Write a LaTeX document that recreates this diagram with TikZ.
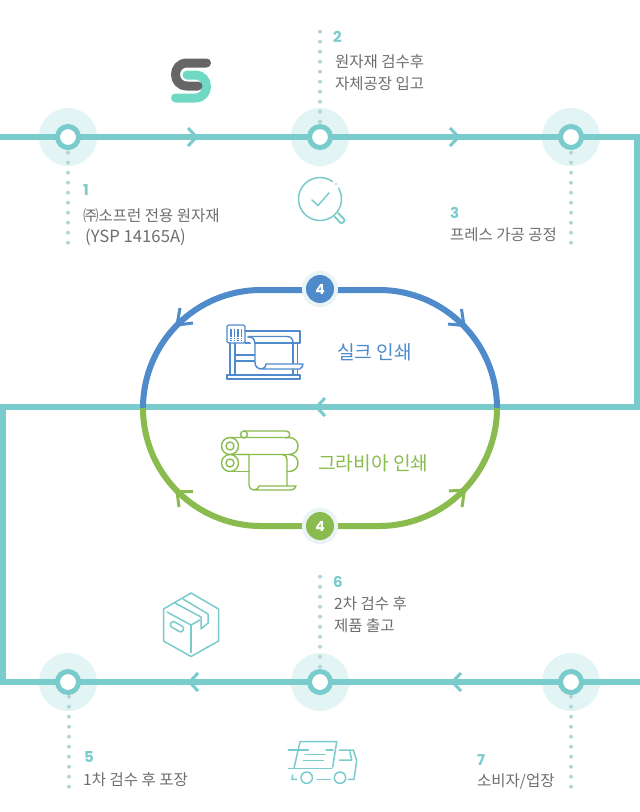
\documentclass[tikz,border=0pt]{standalone}
\usepackage{fontspec}
\setmainfont{Noto Sans CJK KR}
\newfontfamily\numfont{Poppins}
\definecolor{teal}{HTML}{7ACCCC}
\definecolor{halo}{HTML}{E2F4F4}
\definecolor{dotc}{HTML}{B5D6D6}
\definecolor{loopblue}{HTML}{4F8BCB}
\definecolor{loopgreen}{HTML}{8ABB4E}
\definecolor{badge}{HTML}{EAF3F5}
\definecolor{txt}{HTML}{6E6E6E}
\definecolor{logog}{HTML}{666666}
\definecolor{logot}{HTML}{6FD9C3}
\tikzset{
  x=1pt,y=-1pt,
  mainline/.style={draw=teal,line width=6pt,line join=miter},
  halonode/.style={circle,fill=halo,minimum size=58pt,inner sep=0pt},
  ringnode/.style={circle,draw=teal,fill=white,line width=5pt,minimum size=21pt,inner sep=0pt},
  dotline/.style={draw=dotc,line width=4pt,line cap=round,dash pattern=on 0pt off 10pt},
  chev/.style={draw=teal,line width=3pt,line cap=butt,line join=miter},
  looparrow/.style={line width=3pt,line cap=butt,line join=miter},
  num/.style={anchor=base west,inner sep=0pt,text=teal,font=\numfont\bfseries\fontsize{15}{15}\selectfont},
  lab/.style={anchor=base west,inner sep=0pt,text=txt,font=\fontsize{15.5}{15.5}\selectfont},
  looplab/.style={anchor=base west,inner sep=0pt,font=\fontsize{19.2}{19.2}\selectfont},
  badgeo/.style={circle,fill=badge,minimum size=36pt,inner sep=0pt},
  badgei/.style={circle,minimum size=28pt,inner sep=0pt,text=white,font=\numfont\bfseries\fontsize{14}{14}\selectfont},
  tealicon/.style={draw=teal,line width=1.5pt,line cap=round,line join=round},
  blueicon/.style={draw=loopblue,line width=1.4pt,line cap=round,line join=round},
  greenicon/.style={draw=loopgreen,line width=1.4pt,line cap=round,line join=round},
}
\begin{document}
\begin{tikzpicture}
\useasboundingbox (0,0) rectangle (640,812);
\fill[white] (0,0) rectangle (640,812);
% anchors
\coordinate (L0) at (0,137);
\coordinate (C1) at (637,137);
\coordinate (C2) at (637,407);
\coordinate (C3) at (3,407);
\coordinate (C4) at (3,682);
\coordinate (R0) at (640,682);
\coordinate (LT) at (261,290);
\coordinate (LB) at (261,526);
% halos
\foreach \n/\p in {h1/{68,137},h2/{320,137},h3/{571,137},h5/{68,682},h6/{320,682},h7/{571,682}}
  \node[halonode] (\n) at (\p) {};
% dotted lines
\coordinate (d1a) at (68,152.7);  \coordinate (d1b) at (68,243);
\coordinate (d2a) at (320,31.7);  \coordinate (d2b) at (320,122);
\coordinate (d3a) at (571,152.7); \coordinate (d3b) at (571,243);
\coordinate (d5a) at (69,696.7);  \coordinate (d5b) at (69,787);
\coordinate (d6a) at (320,576.7); \coordinate (d6b) at (320,667);
\coordinate (d7a) at (571,696.7); \coordinate (d7b) at (571,787);
\foreach \n in {1,2,3,5,6,7} \path[dotline] (d\n a) -- (d\n b);
% main line
\path[mainline] (L0) -- (C1) -- (C2) -- (C3) -- (C4) -- (R0);
% rings
\foreach \n/\p in {r1/{68,137},r2/{320,137},r3/{571,137},r5/{68,682},r6/{320,682},r7/{571,682}}
  \node[ringnode] (\n) at (\p) {};
% chevrons
\path[chev] (188,128) -- (196.5,137) -- (188,146);
\path[chev] (450,128) -- (458.5,137) -- (450,146);
\path[chev] (325,398) -- (316.5,407) -- (325,416);
\path[chev] (198,673) -- (189.5,682) -- (198,691);
\path[chev] (461,673) -- (452.5,682) -- (461,691);
% loop
\node[badgeo] (b1) at (320,289) {};
\node[badgeo] (b2) at (320,526) {};
\draw[loopblue,line width=6pt] (b1 |- LT) -- (LT) .. controls (195.8,290) and (143,342.8) .. (143,408);
\draw[loopblue,line width=6pt] (b1 |- LT) -- (379,290) .. controls (444.2,290) and (497,342.8) .. (497,408);
\draw[loopgreen,line width=6pt] (b2 |- LB) -- (LB) .. controls (195.8,526) and (143,473.2) .. (143,408);
\draw[loopgreen,line width=6pt] (b2 |- LB) -- (379,526) .. controls (444.2,526) and (497,473.2) .. (497,408);
\node[badgeo] at (320,289) {};
\node[badgeo] at (320,526) {};
\node[badgei,fill=loopblue] (b1i) at (320,289) {4};
\node[badgei,fill=loopgreen] (b2i) at (320,526) {4};
\path[looparrow,draw=loopblue] (180,308) -- (177,325) -- (193,323);
\path[looparrow,draw=loopblue] (461.5,309) -- (464,325.5) -- (448,324);
\path[looparrow,draw=loopgreen] (193,491.5) -- (177,491.5) -- (179,507);
\path[looparrow,draw=loopgreen] (449,491) -- (464.5,490) -- (462,507);
% logo
\draw[logot,line width=9pt,line cap=round] (187,75) -- (195,75) .. controls (210.3,75) and (210.3,98) .. (195,98) -- (175.5,98);
\draw[logog,line width=9pt,line cap=round] (206.5,63) -- (187,63) .. controls (171.7,63) and (171.7,86) .. (187,86) -- (198,86);
% magnifier
\draw[tealicon] (320,199) ++(-55:21.5) arc[start angle=-55,end angle=-390,radius=21.5];
\fill[teal] (336,184) circle (0.8);
\draw[tealicon] (312,200) -- (318,205.5) -- (329,193);
\draw[tealicon,line width=1.8pt] (334.5,216.5) -- (340,222.5) .. controls (342,224.5) and (346,221) .. (344,219) -- (338,213);
% press icon
\draw[blueicon,rounded corners=1.5pt] (227,325) rectangle (245,343);
\foreach \x in {231,234.5,238,241.5} {
  \draw[blueicon,line cap=butt] (\x,329) -- (\x,336.5);
  \draw[blueicon,line cap=butt,dash pattern=on 1.4pt off 1pt] (\x,338) -- (\x,341);
}
\draw[blueicon] (245,331) -- (300,331) -- (300,343) -- (245,343);
\draw[blueicon] (230,343) -- (230,375);
\draw[blueicon] (235,343) -- (235,375);
\draw[blueicon] (293,343) -- (293,364);
\draw[blueicon] (297.5,343) -- (297.5,375);
\draw[blueicon] (293,368) -- (293,375);
\draw[blueicon] (235,355) -- (255,355);
\draw[blueicon] (235,361) -- (255,361);
\draw[blueicon] (227,375) rectangle (300,379);
\draw[blueicon,fill=white] (248,337) -- (249,337) .. controls (253,337) and (255,340) .. (255,344) -- (255,362) .. controls (255,367) and (258,369) .. (262,369) -- (300,369) .. controls (302,368) and (302.5,366) .. (303,364) -- (266,364) .. controls (266,366) and (265,368) .. (262,369);
\draw[blueicon] (248,336.5) -- (287,336.5) .. controls (291,336.5) and (293,339) .. (293,343);
% gravure icon
\draw[greenicon] (244,431) -- (286,431) .. controls (291,431) and (291,438) .. (286,438);
\draw[greenicon] (244,434.5) circle (3.5);
\draw[greenicon] (230,437.5) -- (289,437.5) .. controls (301,437.5) and (301,454.5) .. (289,454.5) -- (230,454.5);
\draw[greenicon] (230,446) circle (8.5);
\draw[greenicon] (230,446) circle (4);
\draw[greenicon] (230,471.5) -- (249,471.5);
\draw[greenicon] (287,471.5) -- (289,471.5) .. controls (301,471.5) and (301,454.5) .. (289,454.5);
\draw[greenicon,fill=white] (230,463) circle (8.5);
\draw[greenicon] (230,463) circle (4);
\draw[greenicon] (238,454.5) -- (249,454.5) -- (249,485) .. controls (249,488) and (251,490) .. (254,490) -- (291,490) .. controls (294,490) and (295.5,488) .. (296,486) -- (259,486) .. controls (258.5,488) and (257,490) .. (254,490);
\draw[greenicon] (282,454.5) .. controls (286,455) and (287,457) .. (287,460) -- (287,486);
% box icon
\draw[tealicon] (191,593) -- (218.5,609) -- (218.5,641) -- (191,656.5) -- (163.5,641) -- (163.5,609) -- cycle;
\draw[tealicon] (191,625) -- (191,652.5);
\draw[tealicon] (167,612) -- (191,625) -- (200,620);
\draw[tealicon] (175,603) -- (201,617) -- (201,629) -- (208,623) -- (208,614) -- (183,599);
\draw[tealicon,rotate around={-30:(177,626.7)},rounded corners=2.5pt] (170,623.7) rectangle (184,629.7);
% truck icon
\draw[tealicon] (300,741.7) -- (336.7,741.7) -- (332.7,767) ;
\draw[tealicon] (300,741.7) -- (294,768.3);
\draw[tealicon] (288.3,750) -- (308.3,750);
\draw[tealicon] (305,754.3) -- (325,754.3);
\draw[tealicon] (326,750) -- (333,750);
\draw[tealicon] (303.3,760.7) -- (323.3,760.7);
\draw[tealicon] (288.3,768.3) -- (331.7,768.3);
\draw[tealicon] (339.3,750) -- (353.3,750) -- (356.7,760.7) -- (354,779.3) -- (348.3,779.3);
\draw[tealicon] (339.3,760) -- (351.7,760) -- (350,751.7);
\draw[tealicon] (306.7,777.7) circle (5.7);
\draw[tealicon] (340,777.7) circle (5.7);
\draw[tealicon] (317.3,779.3) -- (330,779.3);
\draw[tealicon] (292.7,775) -- (292,779.3) -- (296.7,779.3);
% labels
\node[num] (n1) at (83,195) {1};
\node[lab] (t1a) at (83,221.5) {㈜소프런 전용 원자재};
\node[lab,font=\fontsize{16.7}{16.7}\selectfont] (t1b) at (85,242) {(YSP 14165A)};
\node[num] (n2) at (333,42) {2};
\node[lab] (t2a) at (335,67.5) {원자재 검수후};
\node[lab] (t2b) at (335,89.5) {자체공장 입고};
\node[num] (n3) at (450,218) {3};
\node[lab] (t3) at (450,240) {프레스 가공 공정};
\node[num] (n5) at (84,762) {5};
\node[lab] (t5) at (83,785) {1차 검수 후 포장};
\node[num] (n6) at (333,587) {6};
\node[lab] (t6a) at (334,609) {2차 검수 후};
\node[lab] (t6b) at (334,631.5) {제품 출고};
\node[num] (n7) at (477,765) {7};
\node[lab] (t7) at (477,786) {소비자/업장};
\node[looplab,text=loopblue] (silk) at (337,359) {실크 인쇄};
\node[looplab,text=loopgreen] (grav) at (318,470) {그라비아 인쇄};
\end{tikzpicture}
\end{document}
